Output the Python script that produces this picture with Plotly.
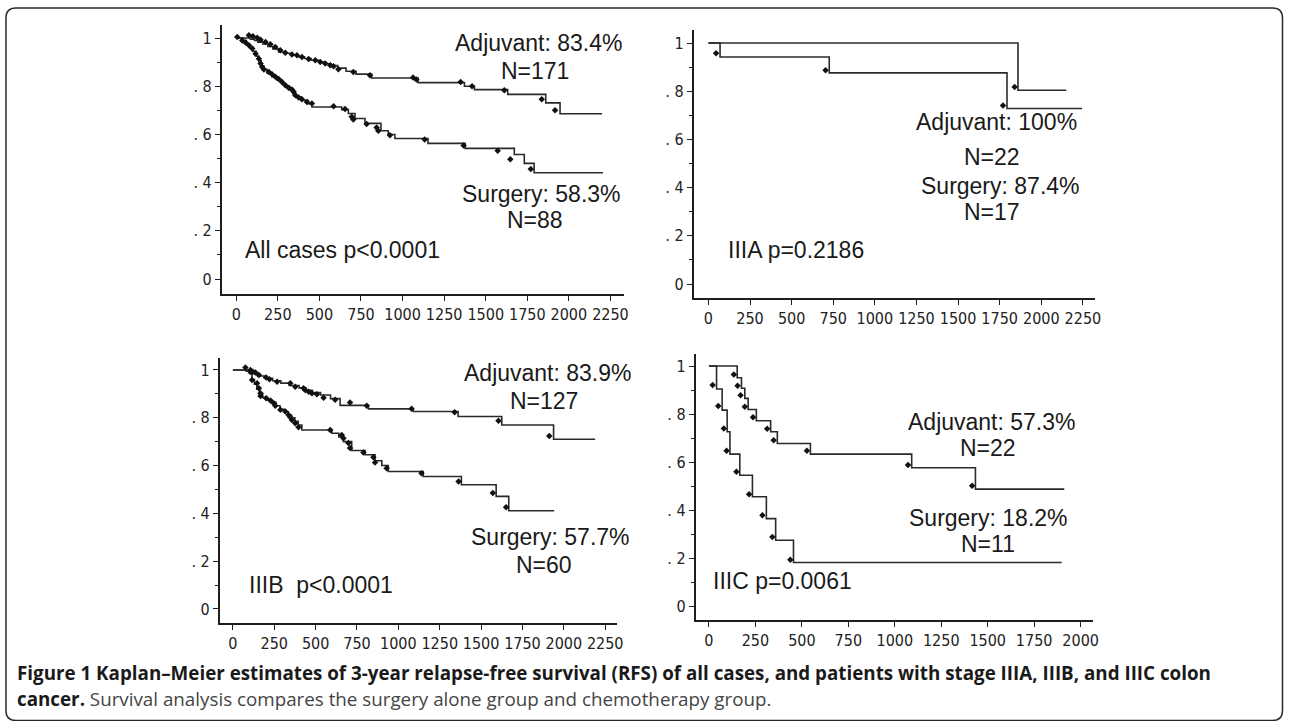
import plotly.graph_objects as go

W, H = 1289, 721

# ---------------- DATA ----------------
x_ticks_a = [0, 250, 500, 750, 1000, 1250, 1500, 1750, 2000, 2250]
x_ticks_b = [0, 250, 500, 750, 1000, 1250, 1500, 1750, 2000]
y_tickvals = [0, 0.2, 0.4, 0.6, 0.8, 1]
y_ticktext = ["0", ". 2", ". 4", ". 6", ". 8", "1"]

# Panel 1: All cases
p1_adj_t = [0, 85, 110, 130, 160, 190, 220, 255, 290, 330, 370, 410, 450, 495, 530, 570, 610, 660, 720, 814, 1093, 1372, 1432, 1632, 1861, 1947, 2200]
p1_adj_s = [1.0, 0.995, 0.99, 0.983, 0.975, 0.965, 0.955, 0.942, 0.937, 0.93, 0.922, 0.915, 0.908, 0.9, 0.893, 0.886, 0.875, 0.862, 0.85, 0.834, 0.815, 0.80, 0.786, 0.766, 0.731, 0.686, 0.686]
p1_sur_t = [0, 40, 60, 80, 100, 120, 135, 150, 165, 185, 215, 245, 275, 300, 320, 340, 360, 390, 430, 455, 634, 674, 714, 774, 870, 914, 954, 1153, 1376, 1672, 1732, 1791, 2205]
p1_sur_s = [1.0, 0.99, 0.975, 0.96, 0.945, 0.925, 0.905, 0.885, 0.87, 0.855, 0.84, 0.825, 0.81, 0.8, 0.785, 0.77, 0.756, 0.742, 0.728, 0.714, 0.703, 0.687, 0.666, 0.646, 0.615, 0.6, 0.583, 0.563, 0.542, 0.517, 0.48, 0.441, 0.441]
p1_adj_ct = [76, 100, 126, 146, 176, 205, 235, 265, 295, 335, 365, 395, 435, 475, 505, 535, 565, 585, 614, 704, 804, 1063, 1083, 1349, 1418, 1612, 1837, 1917]
p1_adj_cs = [1.011, 1.007, 1.001, 0.993, 0.983, 0.974, 0.963, 0.949, 0.939, 0.932, 0.928, 0.921, 0.913, 0.908, 0.901, 0.894, 0.887, 0.883, 0.870, 0.859, 0.846, 0.836, 0.828, 0.818, 0.80, 0.783, 0.746, 0.70]
p1_sur_ct = [6, 36, 56, 76, 96, 116, 136, 146, 156, 166, 196, 215, 235, 255, 275, 295, 315, 335, 345, 355, 375, 395, 425, 455, 585, 654, 694, 704, 784, 844, 854, 924, 1133, 1367, 1572, 1648, 1771]
p1_sur_cs = [1.004, 0.990, 0.981, 0.970, 0.956, 0.935, 0.914, 0.894, 0.88, 0.869, 0.859, 0.850, 0.839, 0.830, 0.818, 0.804, 0.794, 0.786, 0.777, 0.763, 0.753, 0.746, 0.735, 0.728, 0.717, 0.705, 0.673, 0.662, 0.643, 0.629, 0.615, 0.597, 0.579, 0.554, 0.532, 0.497, 0.457]

# Panel 2: IIIA
p2_adj_t = [0, 1860, 2150]
p2_adj_s = [1.0, 0.804, 0.804]
p2_sur_t = [0, 70, 726, 1794, 2245]
p2_sur_s = [1.0, 0.942, 0.876, 0.728, 0.728]
p2_adj_ct = [1840]
p2_adj_cs = [0.817]
p2_sur_ct = [46, 704, 1770]
p2_sur_cs = [0.958, 0.887, 0.741]

# Panel 3: IIIB
p3_adj_t = [0, 80, 110, 150, 190, 240, 290, 340, 400, 440, 480, 530, 590, 648, 819, 1090, 1361, 1625, 1938, 2189]
p3_adj_s = [1.0, 0.995, 0.985, 0.975, 0.965, 0.955, 0.945, 0.935, 0.925, 0.915, 0.905, 0.895, 0.88, 0.852, 0.837, 0.826, 0.805, 0.77, 0.71, 0.71]
p3_sur_t = [0, 100, 115, 130, 145, 160, 180, 210, 235, 260, 285, 310, 335, 355, 375, 395, 417, 598, 640, 668, 718, 799, 859, 900, 939, 1150, 1381, 1591, 1667, 1942]
p3_sur_s = [1.0, 0.985, 0.96, 0.94, 0.92, 0.9, 0.885, 0.875, 0.865, 0.85, 0.835, 0.825, 0.81, 0.8, 0.785, 0.77, 0.749, 0.735, 0.72, 0.70, 0.663, 0.645, 0.62, 0.6, 0.575, 0.554, 0.52, 0.471, 0.411, 0.411]
p3_adj_ct = [76, 106, 120, 136, 157, 201, 221, 267, 347, 377, 427, 437, 458, 478, 508, 548, 618, 708, 809, 1080, 1340, 1605, 1912]
p3_adj_cs = [1.01, 1.0, 0.993, 0.989, 0.979, 0.968, 0.961, 0.951, 0.944, 0.930, 0.923, 0.916, 0.909, 0.903, 0.898, 0.884, 0.875, 0.864, 0.850, 0.838, 0.823, 0.788, 0.724]
p3_sur_ct = [106, 116, 146, 157, 167, 167, 201, 227, 247, 257, 287, 317, 337, 347, 357, 377, 397, 588, 658, 668, 698, 708, 789, 849, 859, 929, 1140, 1364, 1571, 1651]
p3_sur_cs = [0.993, 0.958, 0.944, 0.923, 0.903, 0.891, 0.882, 0.872, 0.861, 0.850, 0.833, 0.826, 0.812, 0.802, 0.791, 0.777, 0.760, 0.749, 0.728, 0.714, 0.694, 0.673, 0.655, 0.635, 0.613, 0.589, 0.568, 0.533, 0.485, 0.426]

# Panel 4: IIIC
p4_adj_t = [0, 152, 175, 193, 211, 255, 332, 368, 546, 1091, 1434, 1912]
p4_adj_s = [1.0, 0.951, 0.907, 0.865, 0.819, 0.772, 0.726, 0.677, 0.633, 0.576, 0.487, 0.487]
p4_sur_t = [0, 41, 71, 98, 113, 166, 234, 309, 359, 455, 1898]
p4_sur_s = [1.0, 0.904, 0.816, 0.726, 0.633, 0.545, 0.455, 0.364, 0.274, 0.181, 0.181]
p4_adj_ct = [134, 154, 170, 193, 237, 313, 348, 527, 1071, 1416]
p4_adj_cs = [0.965, 0.918, 0.878, 0.830, 0.786, 0.739, 0.691, 0.647, 0.587, 0.501]
p4_sur_ct = [20, 50, 80, 95, 148, 216, 288, 341, 438]
p4_sur_cs = [0.921, 0.833, 0.740, 0.647, 0.559, 0.466, 0.378, 0.288, 0.193]

panels = [
    dict(adj=(p1_adj_t, p1_adj_s), sur=(p1_sur_t, p1_sur_s), adjc=(p1_adj_ct, p1_adj_cs), surc=(p1_sur_ct, p1_sur_cs),
         xticks=x_ticks_a, px=(223, 627), py=(25, 294), xr=(-86, 2332), yr=(-0.062, 1.054)),
    dict(adj=(p2_adj_t, p2_adj_s), sur=(p2_sur_t, p2_sur_s), adjc=(p2_adj_ct, p2_adj_cs), surc=(p2_sur_ct, p2_sur_cs),
         xticks=x_ticks_a, px=(697, 1100), py=(30, 298), xr=(-88, 2322), yr=(-0.058, 1.054)),
    dict(adj=(p3_adj_t, p3_adj_s), sur=(p3_sur_t, p3_sur_s), adjc=(p3_adj_ct, p3_adj_cs), surc=(p3_sur_ct, p3_sur_cs),
         xticks=x_ticks_a, px=(221, 620), py=(358, 623), xr=(-78, 2322), yr=(-0.0586, 1.05)),
    dict(adj=(p4_adj_t, p4_adj_s), sur=(p4_sur_t, p4_sur_s), adjc=(p4_adj_ct, p4_adj_cs), surc=(p4_sur_ct, p4_sur_cs),
         xticks=x_ticks_b, px=(699, 1098), py=(354, 620), xr=(-71, 2066), yr=(-0.0583, 1.05)),
]

# annotation texts: (text, x_px, y_px, anchor)
panel_texts = [
    ("Adjuvant: 83.4%", 542, 43, "center"), ("N=171", 538, 71, "center"),
    ("Surgery: 58.3%", 544, 194, "center"), ("N=88", 538, 220, "center"),
    ("All cases p<0.0001", 244, 250, "left"),
    ("Adjuvant: 100%", 1001, 122, "center"), ("N=22", 997, 157, "center"),
    ("Surgery: 87.4%", 1005, 186, "center"), ("N=17", 997, 212, "center"),
    ("IIIA p=0.2186", 729, 250, "left"),
    ("Adjuvant: 83.9%", 551, 373, "center"), ("N=127", 547, 401, "center"),
    ("Surgery: 57.7%", 553, 537, "center"), ("N=60", 547, 565, "center"),
    ("IIIB\u00a0\u00a0p<0.0001", 248, 585, "left"),
    ("Adjuvant: 57.3%", 997, 422, "center"), ("N=22", 993, 448, "center"),
    ("Surgery: 18.2%", 993, 518, "center"), ("N=11", 993, 544, "center"),
    ("IIIC p=0.0061", 714, 581, "left"),
]

caption_line1 = "Figure 1 Kaplan–Meier estimates of 3-year relapse-free survival (RFS) of all cases, and patients with stage IIIA, IIIB, and IIIC colon"
caption_bold2 = "cancer."
caption_rest2 = " Survival analysis compares the surgery alone group and chemotherapy group."

# ---------------- FIGURE ----------------
LINE = "#2a2a2a"
AX = "#1e1e1e"
TICKFONT = dict(family="Liberation Sans Narrow, DejaVu Sans Condensed, Arial Narrow, sans-serif", size=16, color="#222")
ANNFONT = dict(family="Liberation Sans, Arial, sans-serif", size=23, color="#1a1a1a")

fig = go.Figure()
layout = dict(width=W, height=H, margin=dict(l=0, r=0, t=0, b=0),
              paper_bgcolor="white", plot_bgcolor="white", showlegend=False)

for i, p in enumerate(panels, start=1):
    xa = "x" if i == 1 else f"x{i}"
    ya = "y" if i == 1 else f"y{i}"
    for (t, s) in (p["adj"], p["sur"]):
        fig.add_trace(go.Scatter(x=t, y=s, mode="lines", line=dict(shape="hv", color=LINE, width=1.6),
                                 xaxis=xa, yaxis=ya, hoverinfo="skip"))
    for (t, s) in (p["adjc"], p["surc"]):
        fig.add_trace(go.Scatter(x=t, y=s, mode="markers",
                                 marker=dict(symbol="diamond", size=5, color="#111"),
                                 xaxis=xa, yaxis=ya, hoverinfo="skip"))
    xkey = "xaxis" if i == 1 else f"xaxis{i}"
    ykey = "yaxis" if i == 1 else f"yaxis{i}"
    layout[xkey] = dict(domain=[p["px"][0] / W, p["px"][1] / W], range=list(p["xr"]),
                        anchor=ya, showgrid=False, zeroline=False, showline=True,
                        linecolor=AX, linewidth=2, ticks="outside", ticklen=5, tickwidth=1.3,
                        tickcolor=AX, tickvals=p["xticks"], ticktext=[str(v) for v in p["xticks"]],
                        tickfont=TICKFONT, fixedrange=True)
    layout[ykey] = dict(domain=[1 - p["py"][1] / H, 1 - p["py"][0] / H], range=list(p["yr"]),
                        anchor=xa, showgrid=False, zeroline=False, showline=True,
                        linecolor=AX, linewidth=2, ticks="outside", ticklen=5, tickwidth=1.3,
                        tickcolor=AX, tickvals=y_tickvals, ticktext=y_ticktext,
                        tickfont=TICKFONT, fixedrange=True,
                        minor=dict(tickvals=[0.1, 0.3, 0.5, 0.7, 0.9], ticks="outside", ticklen=3,
                                   tickcolor=AX, tickwidth=1))

fig.update_layout(**layout)

for text, xp, yp, anc in panel_texts:
    fig.add_annotation(text=text, x=xp / W, y=1 - yp / H, xref="paper", yref="paper",
                       xanchor=anc, yanchor="middle", showarrow=False, font=ANNFONT)

CAPFONT = "Open Sans, Noto Sans, sans-serif"
fig.add_annotation(text="<b>" + caption_line1 + "</b>", x=15 / W, y=1 - 673 / H, xref="paper", yref="paper",
                   xanchor="left", yanchor="middle", showarrow=False,
                   font=dict(family=CAPFONT, size=18.8, color="#1a1a1a"))
fig.add_annotation(text="<b>" + caption_bold2 + "</b>" + "<span style='color:#444'>" + caption_rest2 + "</span>",
                   x=15 / W, y=1 - 699 / H, xref="paper", yref="paper",
                   xanchor="left", yanchor="middle", showarrow=False,
                   font=dict(family=CAPFONT, size=18.8, color="#1a1a1a"))

# rounded border (right and bottom edges sit at the page edge as in the reference)
L, R, T, B, r = 6, 1288.5, 8, 720.5, 10
def px(x):
    return x / W
def py(y):
    return 1 - y / H
path = (f"M {px(L + r)},{py(T)} L {px(R - r)},{py(T)} Q {px(R)},{py(T)} {px(R)},{py(T + r)} "
        f"L {px(R)},{py(B - r)} Q {px(R)},{py(B)} {px(R - r)},{py(B)} "
        f"L {px(L + r)},{py(B)} Q {px(L)},{py(B)} {px(L)},{py(B - r)} "
        f"L {px(L)},{py(T + r)} Q {px(L)},{py(T)} {px(L + r)},{py(T)} Z")
fig.add_shape(type="path", path=path, xref="paper", yref="paper",
              line=dict(color="#2a2a2a", width=1.5), fillcolor="rgba(0,0,0,0)")

post = ("var de=document.documentElement, b=document.body;"
        "de.style.margin='0';de.style.padding='0';de.style.overflow='hidden';"
        "de.style.width='1289px';de.style.height='721px';"
        "b.style.margin='0';b.style.padding='0';b.style.overflow='hidden';"
        "b.style.width='1289px';b.style.height='721px';"
        "var d=document.getElementById('{plot_id}');"
        "if(d){d.style.display='block';if(d.parentElement){d.parentElement.style.height='721px';"
        "d.parentElement.style.overflow='hidden';}}")
fig.write_html("out.html", config={"displayModeBar": False}, post_script=post)
